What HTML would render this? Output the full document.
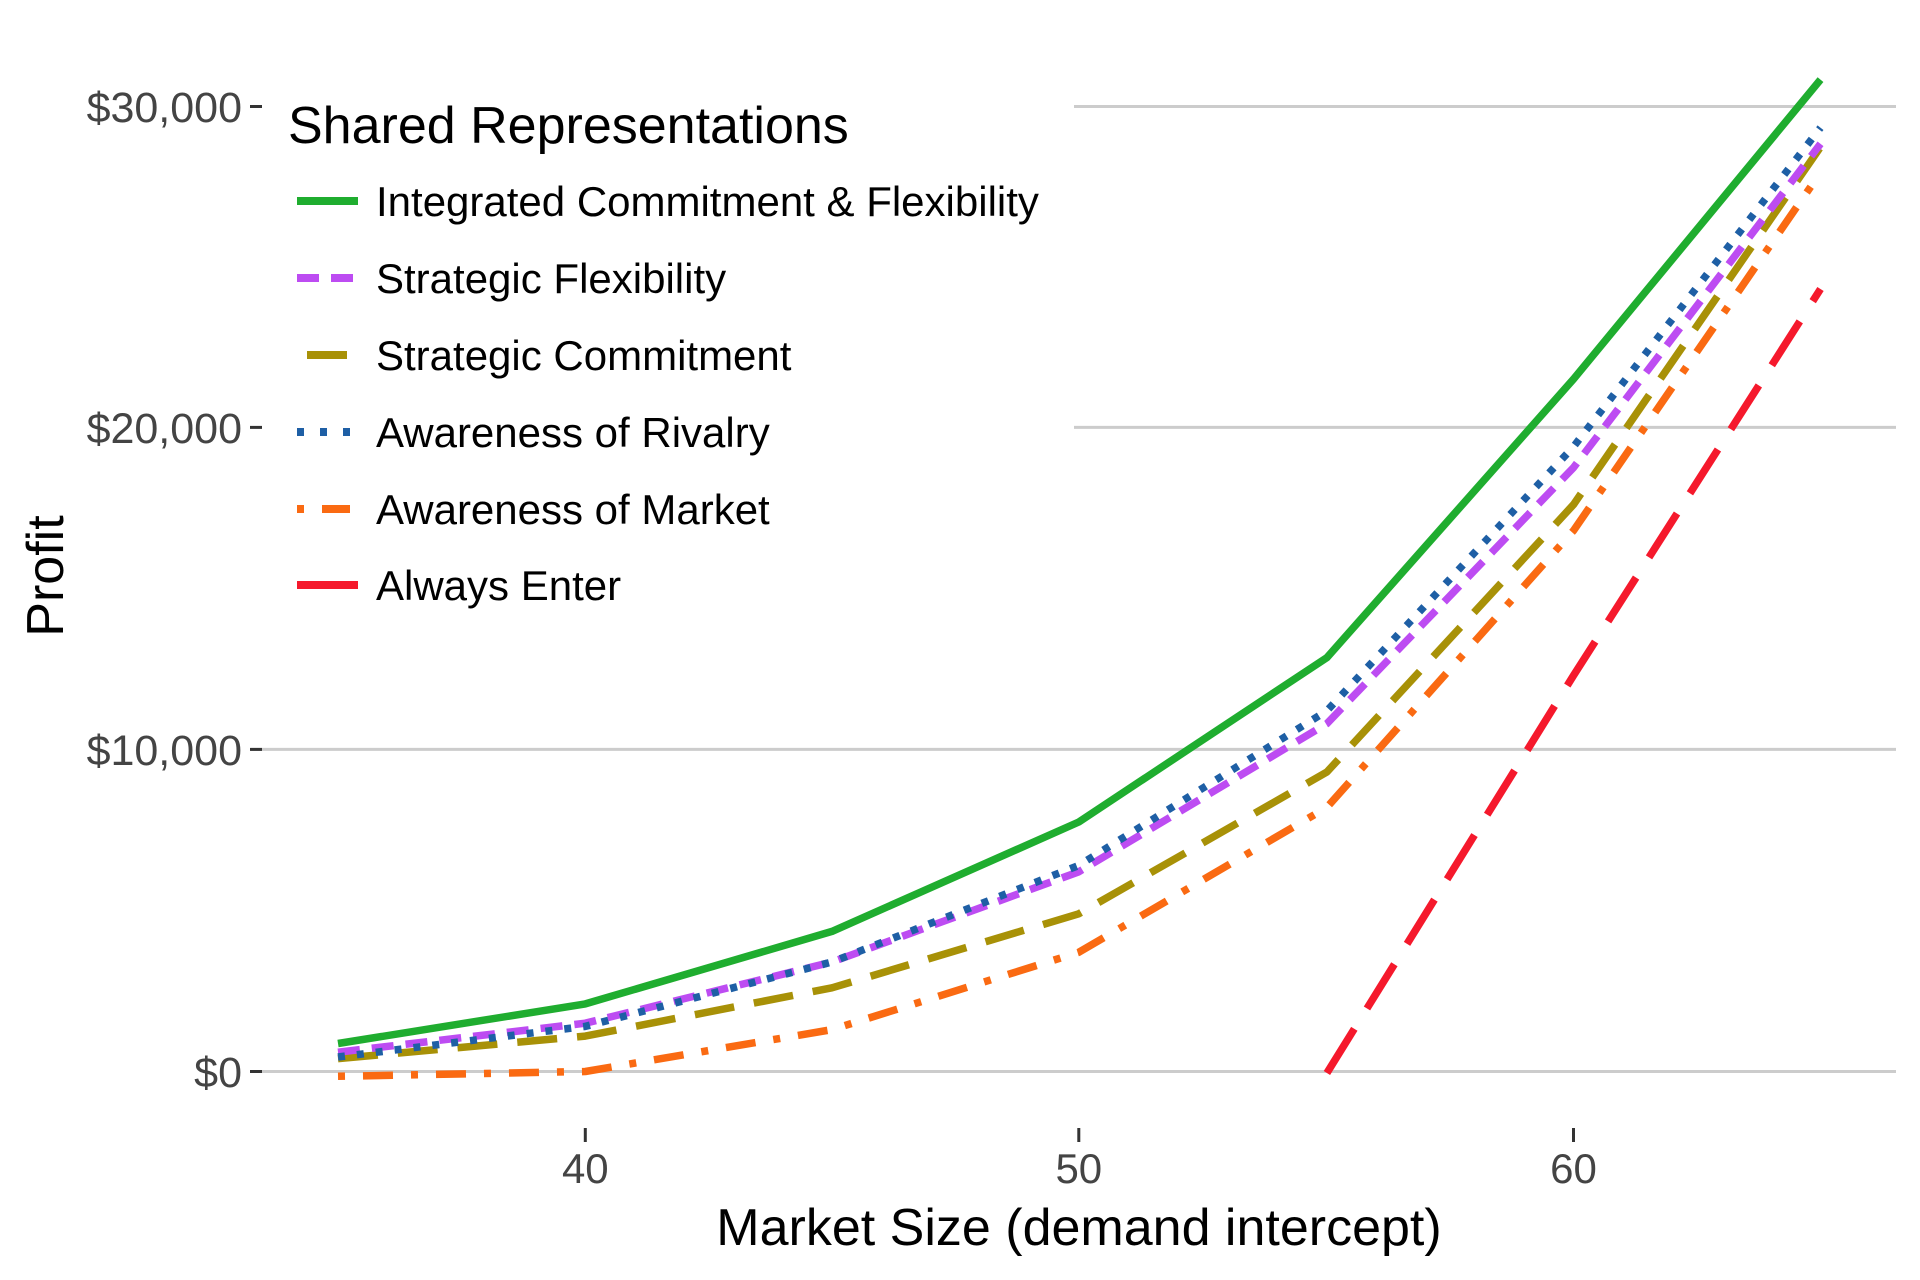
<!DOCTYPE html>
<html><head><meta charset="utf-8"><style>
html,body{margin:0;padding:0;background:#fff;}
svg{display:block;font-family:"Liberation Sans",Arial,sans-serif;}
</style></head><body>
<svg width="1920" height="1280" viewBox="0 0 1920 1280" xmlns="http://www.w3.org/2000/svg">
<rect width="1920" height="1280" fill="#fff"/>
<g stroke="#cccccc" stroke-width="3">
<line x1="251" y1="1071.5" x2="1896" y2="1071.5"/>
<line x1="251" y1="749.4" x2="1896" y2="749.4"/>
<line x1="1074" y1="427.4" x2="1896" y2="427.4"/>
<line x1="1074" y1="106.5" x2="1896" y2="106.5"/>
</g>
<g stroke="#333" stroke-width="3">
<line x1="250" y1="1071.5" x2="262" y2="1071.5"/>
<line x1="250" y1="749.4" x2="262" y2="749.4"/>
<line x1="250" y1="427.4" x2="262" y2="427.4"/>
<line x1="250" y1="106.5" x2="262" y2="106.5"/>
<line x1="585.3" y1="1128" x2="585.3" y2="1142"/>
<line x1="1078.8" y1="1128" x2="1078.8" y2="1142"/>
<line x1="1573.5" y1="1128" x2="1573.5" y2="1142"/>
</g>
<g fill="#444" font-size="43" text-anchor="end">
<text x="242" y="1087">$0</text>
<text x="242" y="765">$10,000</text>
<text x="242" y="443">$20,000</text>
<text x="242" y="122">$30,000</text>
</g>
<g fill="#444" font-size="42" text-anchor="middle">
<text x="585.3" y="1183">40</text>
<text x="1078.8" y="1183">50</text>
<text x="1573.5" y="1183">60</text>
</g>
<text x="1079" y="1245" font-size="52" text-anchor="middle" fill="#000">Market Size (demand intercept)</text>
<text transform="translate(63,576) rotate(-90)" font-size="52" text-anchor="middle" fill="#000">Profit</text>
<g fill="none" stroke-width="7.5" stroke-linejoin="round">
<polyline stroke="#f5192c" stroke-dasharray="52 24" points="1326.9,1073 1573.5,675.5 1820.5,289"/>
<polyline stroke="#fa6a12" stroke-dasharray="7 18 30 18" points="338,1076.3 585.3,1071.5 832,1029.6 1078.8,952.3 1326.9,807.4 1573.5,530.6 1820.5,172.5"/>
<polyline stroke="#a89107" stroke-dasharray="40 20" points="338,1058.6 585.3,1036.1 832,987.8 1078.8,913.8 1326.9,772 1573.5,504.6 1820.5,147"/>
<polyline stroke="#bd4cf2" stroke-dasharray="22 12" points="338,1052.2 585.3,1023.2 832,962 1078.8,871.8 1326.9,723.6 1573.5,467.6 1820.5,143.8"/>
<polyline stroke="#1e5fa5" stroke-dasharray="7 12" points="338,1057 585.3,1026.4 832,962 1078.8,865.4 1326.9,710.8 1573.5,446.7 1820.5,127.7"/>
<polyline stroke="#1fad2f" points="338,1043.5 585.3,1003.9 832,931.4 1078.8,822 1326.9,657.6 1573.5,379.1 1820.5,79.6"/>
</g>
<text x="288" y="143" font-size="52" fill="#000">Shared Representations</text>
<g stroke-width="8" fill="none">
<line x1="297" y1="201" x2="358" y2="201" stroke="#1fad2f"/>
<line x1="297" y1="278" x2="358" y2="278" stroke="#bd4cf2" stroke-dasharray="22 12"/>
<line x1="297" y1="355" x2="358" y2="355" stroke="#a89107" stroke-dasharray="0 10 40 20"/>
<line x1="297" y1="432" x2="358" y2="432" stroke="#1e5fa5" stroke-dasharray="7 16"/>
<line x1="297" y1="509" x2="358" y2="509" stroke="#fa6a12" stroke-dasharray="7 18 28 18"/>
<line x1="297" y1="585" x2="358" y2="585" stroke="#f5192c"/>
</g>
<g font-size="42" fill="#000">
<text x="376" y="216">Integrated Commitment &amp; Flexibility</text>
<text x="376" y="293">Strategic Flexibility</text>
<text x="376" y="370">Strategic Commitment</text>
<text x="376" y="447">Awareness of Rivalry</text>
<text x="376" y="524">Awareness of Market</text>
<text x="376" y="600">Always Enter</text>
</g>
</svg>
</body></html>
